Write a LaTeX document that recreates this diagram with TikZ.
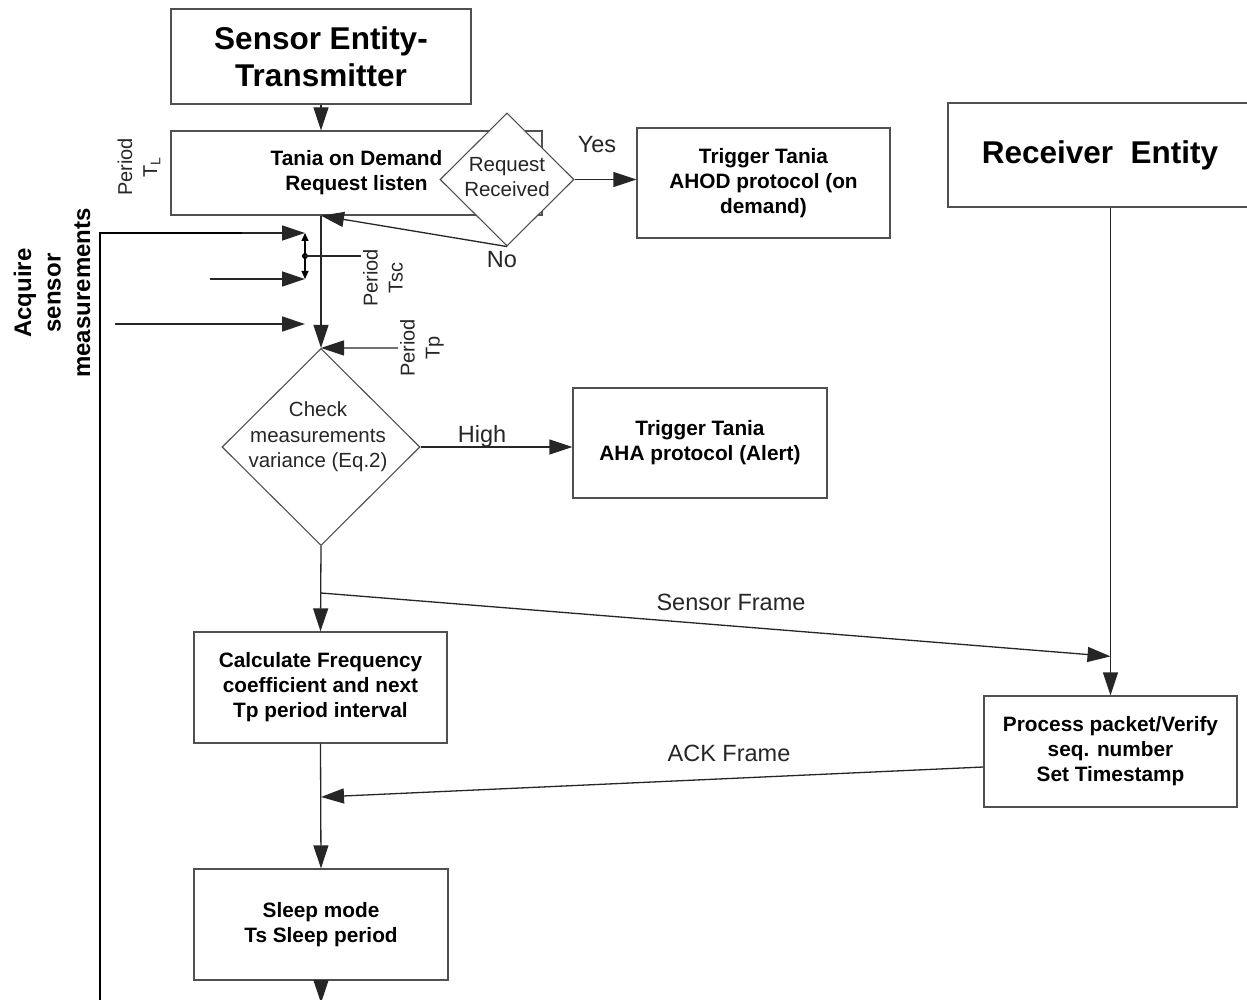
\documentclass[tikz,border=0pt]{standalone}
\usepackage{fontspec}
\setmainfont{Liberation Sans}
\usetikzlibrary{arrows.meta,shapes.geometric}
\definecolor{boxgray}{HTML}{505050}
\definecolor{linedark}{HTML}{262626}
\begin{document}
\begin{tikzpicture}[x=1pt,y=-1pt,
  box/.style={draw=boxgray,line width=1.3pt,fill=white,inner sep=0pt,align=center,
    font=\fontsize{20.8}{25}\selectfont\bfseries},
  bigbox/.style={box,font=\fontsize{31.5}{37}\selectfont\bfseries},
  decision/.style={diamond,draw=boxgray,line width=1.1pt,fill=white,inner sep=0pt},
  dtext/.style={align=center,inner sep=0pt,font=\fontsize{20.5}{25.5}\selectfont,text=black!85},
  lbl/.style={inner sep=0pt,font=\fontsize{23.5}{27}\selectfont,text=black!85},
  vlbl/.style={rotate=90,align=center,inner sep=0pt,font=\fontsize{20}{25}\selectfont,text=black!85},
  flow/.style={draw=linedark,line width=1.3pt,-{Triangle[length=23pt,width=15pt]}},
  dim/.style={draw=black,line width=1.1pt,{Triangle[length=8pt,width=7pt]}-{Triangle[length=8pt,width=7pt]}},
]
% page frame
\useasboundingbox (0,0) rectangle (1247,1000);
\fill[white] (0,0) rectangle (1247,1000);
\clip (0,0) rectangle (1247,1000);

% transmitter side
\node[bigbox,minimum width=300,minimum height=95] (sensor) at (321,56.5) {Sensor Entity-\\Transmitter};
\node[box,minimum width=371,minimum height=84] (tania) at (356.5,173) {Tania on Demand\\Request listen};
\node[decision,minimum width=134,minimum height=133] (reqd) at (507,179.5) {};
\node[dtext] (reqTxt) at (507,177) {Request\\Received};
\node[box,minimum width=253,minimum height=110] (ahod) at (763.5,183) {Trigger Tania\\AHOD protocol (on\\demand)};

\node[decision,minimum width=198,minimum height=197] (check) at (321,447) {};
\node[dtext] (checkTxt) at (318,437) {Check\\measurements\\variance (Eq.2)};
\node[box,minimum width=254,minimum height=110] (aha) at (700,443) {Trigger Tania\\AHA protocol (Alert)};

\node[box,minimum width=253,minimum height=111] (calc) at (320.5,687.5) {Calculate Frequency\\coefficient and next\\Tp period interval};
\node[box,minimum width=254,minimum height=111] (sleep) at (321,924.5) {Sleep mode\\Ts Sleep period};

% receiver side
\node[bigbox,minimum width=304,minimum height=104] (recv) at (1100,155) {Receiver~~Entity};
\node[box,minimum width=253,minimum height=111] (proc) at (1110.5,751.5) {Process packet/Verify\\seq. number\\Set Timestamp};

% side labels
\node[vlbl] (tlLbl) at (139,167) {Period\\T\textsubscript{L}};
\node[vlbl] (tscLbl) at (383,278) {Period\\Tsc};
\node[vlbl] (tpLbl) at (422,348) {Period\\Tp};
\node[rotate=90,align=center,inner sep=0pt,font=\fontsize{24}{29.5}\selectfont\bfseries] (acq) at (52,293) {Acquire\\sensor\\measurements};

% free ends of connectors
\coordinate (tTop) at (check.north |- tania.south);
\coordinate (tpIn) at (398,348);
\coordinate (loopBot) at (100,1003);
\coordinate (loopTurn) at (100,233);
\coordinate (loopJoin) at (242,233);
\coordinate (tipA) at (305,233);
\coordinate (inB) at (210,279);
\coordinate (tipB) at (305,279);
\coordinate (inC) at (115,324);
\coordinate (tipC) at (305,324);
\coordinate (tscMid) at (305,256);
\coordinate (tscEnd) at (361,256);
\coordinate (sfFork) at (321,593);
\path (proc.north) ++(0,-39) coordinate (sfEnd);
\coordinate (ackEnd) at (321,797);
\coordinate (out) at (321,1003);

% main flow
\draw[flow] (sensor.south) -- (sensor.south |- tania.north);
\draw[flow] (reqd.east) -- (reqd.east -| ahod.west);
\draw[flow] (reqd.south) -- (tTop);
\draw[flow] (tTop) -- (check.north);
\draw[flow] (tpIn) -- (check.north);
\draw[flow] (check.east) -- (check.east -| aha.west);
\draw[flow] (check.south) -- (calc.north);
\draw[flow] (sfFork) -- (sfEnd);
\draw[flow] (recv.south -| proc.north) -- (proc.north);
\draw[flow] ([yshift=-15.5pt]proc.west) -- (ackEnd);
\draw[flow] (calc.south) -- (sleep.north);
\draw[flow] (sleep.south) -- (out);

% measurement inputs and feedback loop
\draw[draw=black,line width=2.3pt] (loopBot) -- (loopTurn) -- (loopJoin);
\draw[flow] (loopJoin) -- (tipA);
\draw[flow] (inB) -- (tipB);
\draw[flow] (inC) -- (tipC);
\draw[dim] (tipA) -- (tipB);
\fill[black] (tscMid) circle (3pt);
\draw[draw=linedark,line width=1.1pt] (tscMid) -- (tscEnd);

% branch labels
\node[lbl] (yesLbl) at (597,145) {Yes};
\node[lbl] (noLbl) at (502,260) {No};
\node[lbl] (highLbl) at (482,436) {High};
\node[lbl] (sfLbl) at (731,602) {Sensor Frame};
\node[lbl] (ackLbl) at (729,753) {ACK Frame};
\end{tikzpicture}
\end{document}
